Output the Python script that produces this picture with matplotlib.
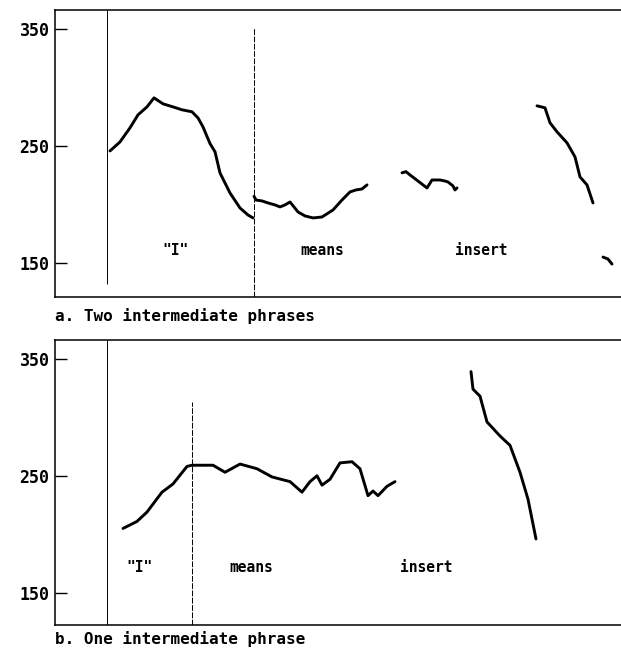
import numpy as np
import matplotlib
matplotlib.use("Agg")
import matplotlib.pyplot as plt

# pitch tracks (time in ms, F0 in Hz)

# a. Two intermediate phrases
a_i_t = [137.5, 162.5, 187.5, 207.5, 230, 247.5, 270, 295, 317.5, 342.5, 357.5,
         370, 387.5, 400, 412.5, 437.5, 462.5, 482.5, 495]
a_i_f0 = [245.7, 253.4, 265.4, 276.5, 283.3, 291, 285.9, 283.3, 280.8, 279.1,
          273.9, 266.2, 252, 245, 226.9, 209.8, 197, 191, 188.5]
a_means_t = [497.5, 502.5, 517.5, 532.5, 550, 562.5, 575, 587.5, 597.5, 607.5,
             625, 645, 667.5, 695, 717.5, 737.5, 752.5, 767.5, 780]
a_means_f0 = [207, 203.8, 203, 201.3, 199.6, 197.9, 199.6, 202.1, 197.9, 193.6,
              190.2, 188.5, 189.3, 195.3, 203.8, 210.7, 212.4, 213.2, 216.7]
a_ins1_t = [867.5, 877.5, 887.5, 907.5, 930, 942.5, 962.5, 975, 982.5, 995, 1000, 1005]
a_ins1_f0 = [227, 228, 225.2, 220, 214.1, 220.9, 220.9, 220, 219.2, 215.8, 212.4, 214.1]
a_ins2_t = [1205, 1225, 1237.5, 1255, 1280, 1300, 1312.5, 1330, 1345]
a_ins2_f0 = [284.2, 282.5, 269.7, 262, 252.6, 240.6, 223.5, 216.7, 201.3]
a_ins3_t = [1370, 1382.5, 1392.5]
a_ins3_f0 = [155.1, 153.4, 149.1]
a_bounds = [130, 497.5]

# b. One intermediate phrase
b_1_t = [170, 205, 230, 267.5, 295, 330, 342.5, 362.5, 395, 425, 462.5, 505,
         542.5, 587.5, 617.5, 637.5, 655, 667.5, 687.5, 712.5, 742.5, 762.5,
         782.5, 795, 807.5, 830, 850]
b_1_f0 = [205, 211, 219, 236, 243, 258, 259, 259, 259, 253, 260, 256, 249, 245,
          236, 245, 250, 242, 247, 261, 262, 256, 233, 237, 233, 241, 245]
b_2_t = [1040, 1045, 1062.5, 1080, 1112.5, 1137.5, 1162.5, 1182.5, 1202.5]
b_2_f0 = [339, 324, 318, 296, 284, 276, 253, 230, 196]
b_bounds = [130, 342.5]

yticks = [150, 250, 350]
words_a = ['"I"', "means", "insert"]
words_a_t = [300, 667.5, 1065]
words_b = ['"I"', "means", "insert"]
words_b_t = [212.5, 490, 927.5]

FONT = "DejaVu Sans Mono"

fig = plt.figure(figsize=(6.21, 6.54), dpi=100)
ax_a = fig.add_axes([55 / 621, 1 - 297 / 654, 566 / 621, 287 / 654])
ax_b = fig.add_axes([55 / 621, 1 - 625 / 654, 566 / 621, 285 / 654])


def style(ax, ylim):
    ax.set_xlim(0, 1415)
    ax.set_ylim(*ylim)
    ax.spines["right"].set_visible(False)
    for s in ["left", "top", "bottom"]:
        ax.spines[s].set_linewidth(1.1)
    ax.set_xticks([])
    ax.set_yticks(yticks)
    ax.tick_params(axis="y", direction="in", length=8.5, width=1.0, pad=4)
    for lab in ax.get_yticklabels():
        lab.set_fontfamily(FONT)
        lab.set_fontsize(12)
        lab.set_fontweight("bold")


style(ax_a, (121, 366))
style(ax_b, (122.5, 366))

lw = 2.1
for t, f in [(a_i_t, a_i_f0), (a_means_t, a_means_f0), (a_ins1_t, a_ins1_f0),
             (a_ins2_t, a_ins2_f0), (a_ins3_t, a_ins3_f0)]:
    ax_a.plot(t, f, color="black", lw=lw, solid_capstyle="round",
              solid_joinstyle="round")
for t, f in [(b_1_t, b_1_f0), (b_2_t, b_2_f0)]:
    ax_b.plot(t, f, color="black", lw=lw, solid_capstyle="round",
              solid_joinstyle="round")

# boundary lines
ax_a.vlines(a_bounds[0], 132, 366, color="black", lw=0.7)
ax_a.vlines(a_bounds[1], 121, 351, color="black", lw=0.7, linestyles=(0, (6, 1.5)))
ax_b.vlines(b_bounds[0], 122.5, 366, color="black", lw=0.7)
ax_b.vlines(b_bounds[1], 122.5, 313, color="black", lw=0.7, linestyles=(0, (6, 1.5)))

for w, t in zip(words_a, words_a_t):
    ax_a.text(t, 161, w, ha="center", va="center", fontsize=10.5,
              family=FONT, fontweight="bold")
for w, t in zip(words_b, words_b_t):
    ax_b.text(t, 172, w, ha="center", va="center", fontsize=10.5,
              family=FONT, fontweight="bold")

fig.text(55 / 621, 1 - 316 / 654, "a. Two intermediate phrases", ha="left",
         va="center", fontsize=11.5, family=FONT, fontweight="bold")
fig.text(55 / 621, 1 - 639 / 654, "b. One intermediate phrase", ha="left",
         va="center", fontsize=11.5, family=FONT, fontweight="bold")

fig.savefig("out.png", dpi=100)
